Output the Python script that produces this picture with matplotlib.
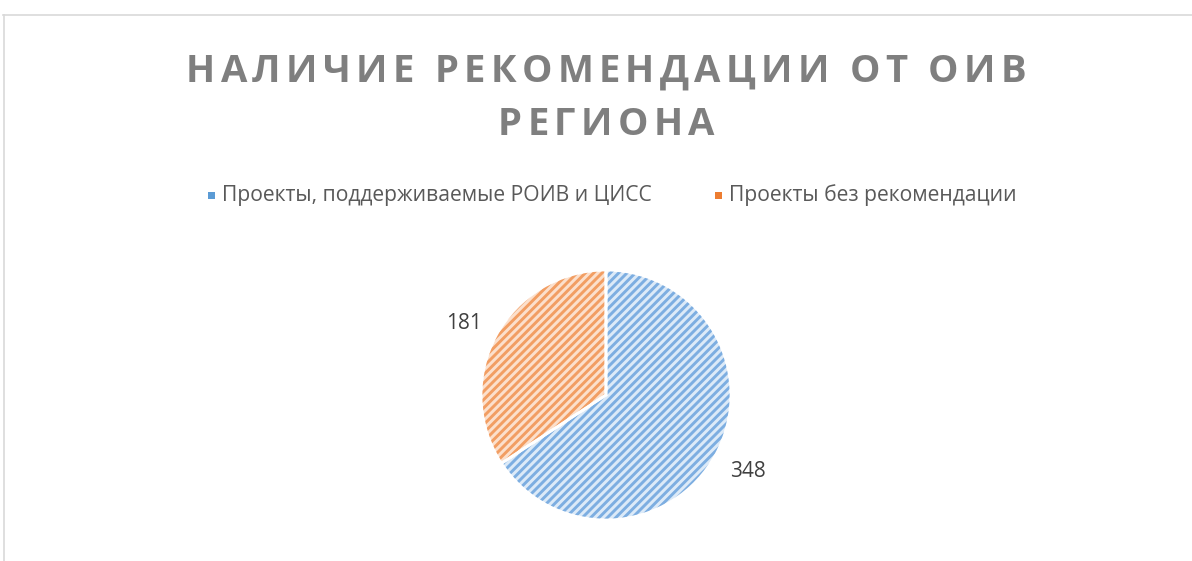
import matplotlib
matplotlib.use("Agg")
import matplotlib.pyplot as plt
from matplotlib.patches import Rectangle, Wedge
from matplotlib.lines import Line2D

# ---- data ----
title_lines = ["НАЛИЧИЕ РЕКОМЕНДАЦИИ ОТ ОИВ", "РЕГИОНА"]
categories = ["Проекты, поддерживаемые РОИВ и ЦИСС", "Проекты без рекомендации"]
values = [348, 181]
stripe_colors = ["#7DAEE1", "#F29E63"]
back_colors = ["#DCEAF8", "#FCE0CC"]
marker_colors = ["#5B9BD5", "#ED7D31"]

W, H = 1192, 561
DPI = 100
plt.rcParams['hatch.linewidth'] = 2.1
fig = plt.figure(figsize=(W / DPI, H / DPI), dpi=DPI)
fig.patch.set_facecolor("white")

# chart border (top & left visible)
fig.add_artist(Line2D([3 / W, 1.0], [1 - 14.5 / H, 1 - 14.5 / H], color="#D9D9D9", lw=1.2))
fig.add_artist(Line2D([3.5 / W, 3.5 / W], [0, 1 - 14.5 / H], color="#D9D9D9", lw=1.2))

renderer = fig.canvas.get_renderer()


def text_width(s, **kw):
    t = fig.text(0, 0, s, **kw)
    w = t.get_window_extent(renderer).width
    t.remove()
    return w


# ---- title with letter spacing ----
tkw = dict(fontsize=27.5, fontweight="bold", family="Open Sans", color="#7F7F7F")


def char_w(c):
    if c == " ":
        return text_width("a a", **tkw) - text_width("aa", **tkw)
    return text_width(c, **tkw)


line1 = title_lines[0]
nat = sum(char_w(c) for c in line1)
spacing = (840 - nat) / (len(line1) - 1)
centers_y = [72, 125]
for line, cy in zip(title_lines, centers_y):
    widths = [char_w(c) for c in line]
    total = sum(widths) + spacing * (len(line) - 1)
    x = 606 - total / 2
    for c, w in zip(line, widths):
        if c != " ":
            fig.text(x / W, 1 - cy / H, c, ha="left", va="center", **tkw)
        x += w + spacing

# ---- legend ----
lkw = dict(family=["Liberation Sans Narrow", "Open Sans"], color="#595959")
base = 15
w0 = text_width(categories[0], fontsize=base, **lkw)
lsize = base * 430 / w0
leg_x = [222, 729]
for cat, lx, mc in zip(categories, leg_x, marker_colors):
    fig.text(lx / W, 1 - 195 / H, cat, ha="left", va="center", fontsize=lsize, **lkw)
    fig.add_artist(Rectangle(((lx - 14) / W, 1 - 199 / H), 7 / W, 7 / H, transform=fig.transFigure,
                             facecolor=mc, edgecolor="none"))

# ---- pie ----
ax = fig.add_axes([0, 0, 1, 1])
cx, cy, r = 606, H - 395, 125
total_v = sum(values)
wedges, texts, autotexts = ax.pie(
    values, center=(cx, cy), radius=r, startangle=90, counterclock=False,
    explode=[0, 0.035], colors=back_colors,
    autopct=lambda p: f"{round(p * total_v / 100)}", pctdistance=1.29,
    wedgeprops=dict(edgecolor="white", linewidth=2),
    textprops=dict(fontsize=15, family="Open Sans", color="#404040"))
for w, sc in zip(wedges, stripe_colors):
    ax.add_patch(Wedge(w.center, w.r, w.theta1, w.theta2, facecolor="none", edgecolor=sc,
                       hatch="////", linewidth=0))
for w in wedges:
    ax.add_patch(Wedge(w.center, w.r, w.theta1, w.theta2, facecolor="none",
                       edgecolor="white", linewidth=2))
autotexts[1].set_y(autotexts[1].get_position()[1] - 5)
ax.set_xlim(0, W)
ax.set_ylim(0, H)
ax.set_aspect("auto")
ax.axis("off")

fig.savefig("out.png", dpi=DPI)
